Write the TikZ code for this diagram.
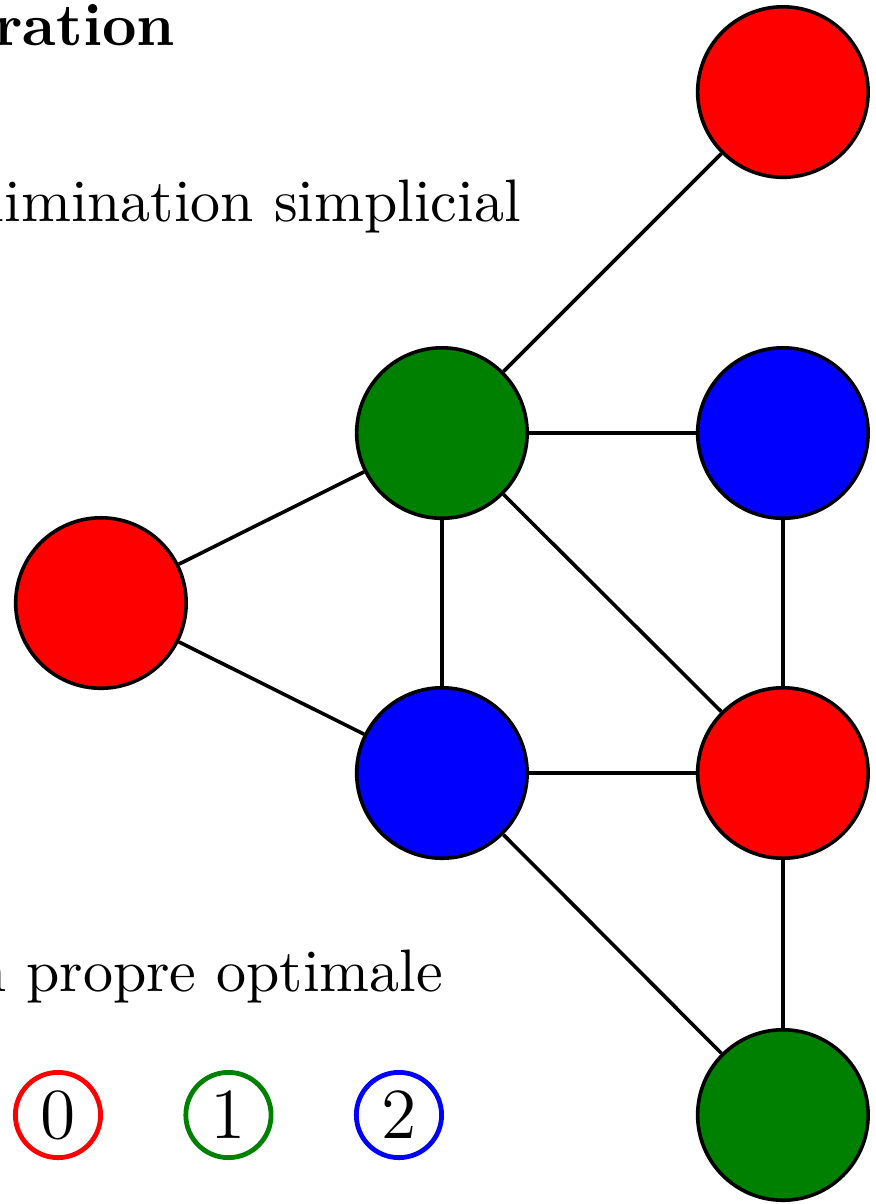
\documentclass[tikz,border=0pt]{standalone}
\definecolor{cRed}{RGB}{255,0,0}
\definecolor{cGreen}{RGB}{0,128,0}
\definecolor{cBlue}{RGB}{0,0,255}
\begin{document}
\begin{tikzpicture}[
  vertex/.style={circle, draw=black, semithick, minimum size=1cm, inner sep=0pt},
  edge/.style={draw=black, semithick},
  legendbox/.style={circle, draw=#1, line width=0.8pt, minimum size=0.5cm, inner sep=0pt, font=\large},
  caption/.style={anchor=base east, inner sep=0pt}
]
\useasboundingbox (0,0) rectangle (5.138,-7.062);
\clip (0,0) rectangle (5.138,-7.062);

% headings
\node[caption, font=\bfseries] (title) at (1.033,-0.264) {Illustration};
\node[caption] (order) at (3.062,-1.302) {Ordre d'\'elimination simplicial};
\node[caption] (colo) at (2.605,-5.818) {Coloration propre optimale};

% graph vertices
\node[vertex, fill=cRed]   (a) at (4.592,-0.540) {};
\node[vertex, fill=cGreen] (b) at (2.592,-2.540) {};
\node[vertex, fill=cBlue]  (c) at (4.592,-2.540) {};
\node[vertex, fill=cRed]   (d) at (0.592,-3.537) {};
\node[vertex, fill=cBlue]  (e) at (2.592,-4.534) {};
\node[vertex, fill=cRed]   (f) at (4.592,-4.534) {};
\node[vertex, fill=cGreen] (g) at (4.592,-6.540) {};

% graph edges
\draw[edge] (a) -- (b);
\draw[edge] (b) -- (c);
\draw[edge] (b) -- (d);
\draw[edge] (b) -- (e);
\draw[edge] (b) -- (f);
\draw[edge] (c) -- (f);
\draw[edge] (d) -- (e);
\draw[edge] (e) -- (f);
\draw[edge] (e) -- (g);
\draw[edge] (f) -- (g);

% colour legend
\node[legendbox=cRed]   (l0) at (0.340,-6.540) {0};
\node[legendbox=cGreen] (l1) at (1.340,-6.540) {1};
\node[legendbox=cBlue]  (l2) at (2.340,-6.540) {2};
\end{tikzpicture}
\end{document}
